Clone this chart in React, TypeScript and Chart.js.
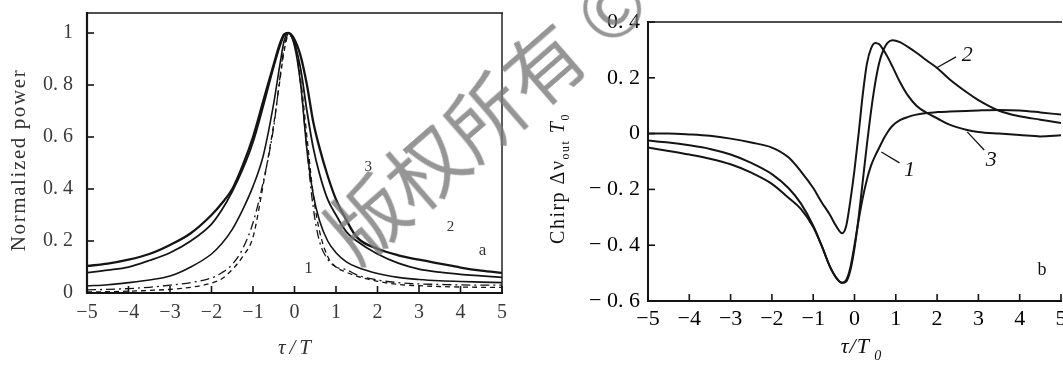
import React, { useEffect, useRef } from "react";
import { Chart, registerables } from "chart.js";

Chart.register(...registerables);

// ---------- Panel a: normalized power ----------
const A_TAU = [-5, -4.5, -4, -3.5, -3, -2.5, -2, -1.75, -1.5, -1.25, -1, -0.75, -0.5, -0.35, -0.25, -0.15, 0, 0.15, 0.3, 0.45, 0.6, 0.8, 1, 1.25, 1.5, 2, 2.5, 3, 3.5, 4, 4.5, 5];
const A_CURVE_1 = [0.104, 0.113, 0.128, 0.15, 0.185, 0.23, 0.3, 0.345, 0.4, 0.49, 0.6, 0.74, 0.88, 0.96, 0.995, 1.0, 0.975, 0.91, 0.8, 0.66, 0.56, 0.45, 0.36, 0.28, 0.215, 0.17, 0.145, 0.128, 0.113, 0.098, 0.086, 0.077];
const A_CURVE_2 = [0.078, 0.088, 0.1, 0.125, 0.155, 0.2, 0.265, 0.32, 0.39, 0.475, 0.58, 0.72, 0.87, 0.95, 0.99, 1.0, 0.96, 0.86, 0.7, 0.56, 0.46, 0.36, 0.3, 0.235, 0.2, 0.15, 0.115, 0.092, 0.08, 0.072, 0.066, 0.06];
const A_CURVE_3 = [0.027, 0.032, 0.04, 0.05, 0.065, 0.1, 0.15, 0.19, 0.245, 0.32, 0.41, 0.53, 0.73, 0.88, 0.97, 1.0, 0.95, 0.8, 0.55, 0.38, 0.28, 0.2, 0.155, 0.12, 0.1, 0.075, 0.06, 0.052, 0.047, 0.044, 0.042, 0.04];
const A_CURVE_4 = [0.012, 0.014, 0.017, 0.022, 0.03, 0.04, 0.058, 0.078, 0.11, 0.17, 0.27, 0.43, 0.64, 0.83, 0.945, 0.995, 0.96, 0.8, 0.55, 0.33, 0.2, 0.13, 0.1, 0.09, 0.07, 0.05, 0.04, 0.035, 0.033, 0.031, 0.03, 0.03];
const A_CURVE_5 = [0.004, 0.005, 0.007, 0.01, 0.014, 0.022, 0.038, 0.055, 0.09, 0.14, 0.215, 0.42, 0.65, 0.82, 0.93, 0.99, 0.97, 0.82, 0.6, 0.38, 0.24, 0.14, 0.1, 0.08, 0.065, 0.045, 0.033, 0.028, 0.025, 0.023, 0.022, 0.022];
const A_X_TICKS = [-5, -4, -3, -2, -1, 0, 1, 2, 3, 4, 5];
const A_Y_TICKS = [0, 0.2, 0.4, 0.6, 0.8, 1];

// ---------- Panel b: chirp ----------
const B_TAU = [-5, -4.5, -4, -3.5, -3, -2.5, -2, -1.6, -1.3, -1, -0.8, -0.6, -0.45, -0.3, -0.2, -0.1, 0, 0.1, 0.2, 0.3, 0.4, 0.5, 0.6, 0.7, 0.8, 0.92, 1.1, 1.3, 1.5, 1.75, 2, 2.3, 2.7, 3, 3.5, 4, 4.5, 5];
const B_CURVE_1 = [-0.025, -0.032, -0.042, -0.055, -0.075, -0.105, -0.145, -0.195, -0.25, -0.33, -0.4, -0.475, -0.515, -0.535, -0.525, -0.48, -0.4, -0.31, -0.23, -0.165, -0.115, -0.08, -0.05, -0.02, 0.005, 0.028, 0.048, 0.06, 0.068, 0.074, 0.077, 0.079, 0.081, 0.083, 0.085, 0.083, 0.076, 0.068];
const B_CURVE_2 = [-0.05, -0.062, -0.075, -0.09, -0.11, -0.14, -0.18, -0.23, -0.27, -0.335, -0.4, -0.475, -0.515, -0.535, -0.53, -0.49, -0.41, -0.3, -0.17, -0.04, 0.08, 0.18, 0.255, 0.3, 0.325, 0.335, 0.328, 0.31, 0.29, 0.262, 0.235, 0.195, 0.15, 0.12, 0.082, 0.062, 0.05, 0.038];
const B_CURVE_3 = [0.0, 0.0, -0.003, -0.008, -0.018, -0.032, -0.05, -0.085, -0.135, -0.195, -0.245, -0.29, -0.33, -0.357, -0.33, -0.24, -0.13, 0.0, 0.14, 0.25, 0.305, 0.325, 0.32, 0.3, 0.275, 0.24, 0.185, 0.135, 0.1, 0.074, 0.055, 0.032, 0.014, 0.006, 0.0, -0.005, -0.01, -0.006];
const B_X_TICKS = [-5, -4, -3, -2, -1, 0, 1, 2, 3, 4, 5];
const B_Y_TICKS = [-0.6, -0.4, -0.2, 0, 0.2, 0.4];

const SERIF = '"Liberation Serif", "DejaVu Serif", serif';
const INK = "#141414";

const fmtX = (v: number) => (v < 0 ? "\u2212" + Math.abs(v) : String(v));
const fmtY = (v: number) => {
  if (Math.abs(v) < 1e-9) return "0";
  if (Math.abs(v - 1) < 1e-9) return "1";
  const d = Math.round(Math.abs(v) * 10);
  return (v < 0 ? "\u2212 " : "") + "0. " + d;
};

type Part = { t: string; size: number; italic?: boolean; sub?: boolean };

function drawRich(ctx: CanvasRenderingContext2D, parts: Part[], cx: number, cy: number, angle: number, spacing: number, color: string) {
  ctx.save();
  ctx.translate(cx, cy);
  ctx.rotate(angle);
  ctx.fillStyle = color;
  (ctx as any).letterSpacing = spacing + "px";
  const fontOf = (p: Part) => `${p.italic ? "italic " : ""}${p.size}px ${SERIF}`;
  let total = 0;
  const widths = parts.map((p) => {
    ctx.font = fontOf(p);
    const w = ctx.measureText(p.t).width;
    total += w;
    return w;
  });
  let x = -total / 2;
  const base = parts[0].size * 0.34;
  ctx.textBaseline = "alphabetic";
  ctx.textAlign = "left";
  parts.forEach((p, i) => {
    ctx.font = fontOf(p);
    ctx.fillText(p.t, x, base + (p.sub ? p.size * 0.45 : 0));
    x += widths[i];
  });
  ctx.restore();
}

type Note = { t: string; x: number; y: number; size: number; italic?: boolean };
type Leader = { x1: number; y1: number; x2: number; y2: number };
type Title = { parts: Part[]; dx: number; dy: number; spacing: number };

type DecorOpts = {
  frame: { left: number; bottom: number; top: number; right: number };
  tickLen: number;
  xTicks: number[];
  yTicks: number[];
  xTitle: Title;
  yTitle: Title;
  notes: Note[];
  leaders: Leader[];
  textColor: string;
};

function makeDecor(o: DecorOpts) {
  return {
    id: "decor",
    afterDatasetsDraw(chart: any) {
      const ctx: CanvasRenderingContext2D = chart.ctx;
      const a = chart.chartArea;
      const xs = chart.scales.x;
      const ys = chart.scales.y;
      ctx.save();
      ctx.strokeStyle = INK;
      ctx.lineCap = "butt";
      const seg = (w: number, x1: number, y1: number, x2: number, y2: number) => {
        if (w <= 0) return;
        ctx.lineWidth = w;
        ctx.beginPath();
        ctx.moveTo(x1, y1);
        ctx.lineTo(x2, y2);
        ctx.stroke();
      };
      seg(o.frame.left, a.left, a.top - 1, a.left, a.bottom + 1);
      seg(o.frame.bottom, a.left - 1, a.bottom, a.right + 1, a.bottom);
      seg(o.frame.top, a.left - 1, a.top, a.right + 1, a.top);
      seg(o.frame.right, a.right, a.top, a.right, a.bottom);
      o.xTicks.forEach((v) => {
        const px = xs.getPixelForValue(v);
        seg(1.6, px, a.bottom, px, a.bottom - o.tickLen);
      });
      o.yTicks.forEach((v) => {
        const py = ys.getPixelForValue(v);
        seg(1.6, a.left, py, a.left + o.tickLen, py);
      });
      o.leaders.forEach((l) => {
        seg(1.3, xs.getPixelForValue(l.x1), ys.getPixelForValue(l.y1), xs.getPixelForValue(l.x2), ys.getPixelForValue(l.y2));
      });
      ctx.fillStyle = o.textColor;
      ctx.textAlign = "center";
      ctx.textBaseline = "middle";
      o.notes.forEach((n) => {
        ctx.font = `${n.italic ? "italic " : ""}${n.size}px ${SERIF}`;
        ctx.fillText(n.t, xs.getPixelForValue(n.x), ys.getPixelForValue(n.y));
      });
      const midX = (a.left + a.right) / 2;
      const midY = (a.top + a.bottom) / 2;
      drawRich(ctx, o.xTitle.parts, midX + o.xTitle.dx, a.bottom + o.xTitle.dy, 0, o.xTitle.spacing, o.textColor);
      drawRich(ctx, o.yTitle.parts, a.left + o.yTitle.dx, midY + o.yTitle.dy, -Math.PI / 2, o.yTitle.spacing, o.textColor);
      ctx.restore();
    },
  };
}

function line(xsArr: number[], ys: number[], width: number, dash: number[]) {
  return {
    data: xsArr.map((x, i) => ({ x, y: ys[i] })),
    borderColor: INK,
    borderWidth: width,
    borderDash: dash,
    pointRadius: 0,
    fill: false,
    cubicInterpolationMode: "monotone" as const,
  };
}

function axisX(ticks: number[], size: number, color: string, padding: number, height: number) {
  return {
    type: "linear" as const,
    min: -5,
    max: 5,
    afterBuildTicks: (s: any) => {
      s.ticks = ticks.map((v) => ({ value: v }));
    },
    afterFit: (s: any) => {
      s.height = height;
      s.paddingLeft = 0;
      s.paddingRight = 0;
    },
    grid: { display: false, drawTicks: false },
    border: { display: false },
    ticks: { callback: (v: any) => fmtX(Number(v)), font: { family: SERIF, size }, color, padding, maxRotation: 0, autoSkip: false },
  };
}

function axisY(ticks: number[], min: number, max: number, size: number, color: string, padding: number, width: number) {
  return {
    type: "linear" as const,
    min,
    max,
    afterBuildTicks: (s: any) => {
      s.ticks = ticks.map((v) => ({ value: v }));
    },
    afterFit: (s: any) => {
      s.width = width;
      s.paddingTop = 0;
      s.paddingBottom = 0;
    },
    grid: { display: false, drawTicks: false },
    border: { display: false },
    ticks: { callback: (v: any) => fmtY(Number(v)), font: { family: SERIF, size }, color, padding, autoSkip: false },
  };
}

function PanelA() {
  const ref = useRef<HTMLCanvasElement>(null);
  useEffect(() => {
    if (!ref.current) return;
    const chart = new Chart(ref.current, {
      type: "line",
      data: {
        datasets: [
          line(A_TAU, A_CURVE_1, 2.3, []),
          line(A_TAU, A_CURVE_2, 1.8, []),
          line(A_TAU, A_CURVE_3, 1.6, []),
          line(A_TAU, A_CURVE_4, 1.3, [9, 4, 2, 4]),
          line(A_TAU, A_CURVE_5, 1.3, [5, 4]),
        ] as any,
      },
      options: {
        animation: false,
        responsive: false,
        devicePixelRatio: 1,
        layout: { padding: { left: 0, right: 28, top: 13, bottom: 0 } },
        plugins: { legend: { display: false }, tooltip: { enabled: false } },
        scales: {
          x: axisX(A_X_TICKS, 20, "#3a3a3a", 8, 80),
          y: axisY(A_Y_TICKS, 0, 1.077, 20, "#3a3a3a", 14, 87),
        } as any,
      },
      plugins: [
        makeDecor({
          frame: { left: 2.2, bottom: 2.2, top: 1.6, right: 1.4 },
          tickLen: 7,
          xTicks: A_X_TICKS,
          yTicks: A_Y_TICKS,
          xTitle: { parts: [{ t: "τ/T", size: 21, italic: true }], dx: 2, dy: 54, spacing: 4 },
          yTitle: { parts: [{ t: "Normalized power", size: 21 }], dx: -69, dy: 7, spacing: 1.6 },
          notes: [
            { t: "1", x: 0.34, y: 0.096, size: 17 },
            { t: "2", x: 3.76, y: 0.254, size: 15 },
            { t: "3", x: 1.78, y: 0.485, size: 15 },
            { t: "a", x: 4.53, y: 0.165, size: 17 },
          ],
          leaders: [],
          textColor: "#333",
        }),
      ],
    });
    return () => chart.destroy();
  }, []);
  return <canvas ref={ref} width={530} height={373} style={{ position: "absolute", left: 0, top: 0 }} />;
}

function PanelB() {
  const ref = useRef<HTMLCanvasElement>(null);
  useEffect(() => {
    if (!ref.current) return;
    const chart = new Chart(ref.current, {
      type: "line",
      data: {
        datasets: [
          line(B_TAU, B_CURVE_1, 2, []),
          line(B_TAU, B_CURVE_2, 2, []),
          line(B_TAU, B_CURVE_3, 2, []),
        ] as any,
      },
      options: {
        animation: false,
        responsive: false,
        devicePixelRatio: 1,
        layout: { padding: { left: 0, right: 2, top: 22, bottom: 0 } },
        plugins: { legend: { display: false }, tooltip: { enabled: false } },
        scales: {
          x: axisX(B_X_TICKS, 22, "#000", 5, 72),
          y: axisY(B_Y_TICKS, -0.6, 0.4, 22, "#000", 8, 118),
        } as any,
      },
      plugins: [
        makeDecor({
          frame: { left: 2, bottom: 2, top: 1.6, right: 0 },
          tickLen: 7,
          xTicks: B_X_TICKS,
          yTicks: B_Y_TICKS,
          xTitle: {
            parts: [
              { t: "τ/T", size: 22, italic: true },
              { t: " 0", size: 14, italic: true, sub: true },
            ],
            dx: 7,
            dy: 45,
            spacing: 1,
          },
          yTitle: {
            parts: [
              { t: "Chirp Δν", size: 20 },
              { t: "out", size: 12, sub: true },
              { t: " T", size: 20, italic: true },
              { t: "0", size: 12, sub: true },
            ],
            dx: -91,
            dy: 17,
            spacing: 1.5,
          },
          notes: [
            { t: "2", x: 2.73, y: 0.282, size: 22, italic: true },
            { t: "3", x: 3.31, y: -0.095, size: 22, italic: true },
            { t: "1", x: 1.33, y: -0.13, size: 22, italic: true },
            { t: "b", x: 4.54, y: -0.49, size: 18 },
          ],
          leaders: [
            { x1: 1.98, y1: 0.235, x2: 2.46, y2: 0.275 },
            { x1: 2.73, y1: 0.006, x2: 3.14, y2: -0.059 },
            { x1: 0.65, y1: -0.066, x2: 1.09, y2: -0.105 },
          ],
          textColor: "#111",
        }),
      ],
    });
    return () => chart.destroy();
  }, []);
  return <canvas ref={ref} width={533} height={373} style={{ position: "absolute", left: 530, top: 0 }} />;
}

export default function App() {
  return (
    <div style={{ position: "fixed", left: 0, top: 0, width: 1063, height: 373, background: "#fff", overflow: "hidden" }}>
      <PanelA />
      <PanelB />
      <div
        style={{
          position: "absolute",
          left: 484,
          top: 112,
          transform: "translate(-50%, -50%) rotate(-41deg)",
          whiteSpace: "nowrap",
          fontFamily: '"Noto Sans CJK SC", sans-serif',
          fontSize: 78,
          lineHeight: 1,
          color: "rgba(120,120,120,0.78)",
          pointerEvents: "none",
        }}
      >
        版权所有 ©
      </div>
    </div>
  );
}
